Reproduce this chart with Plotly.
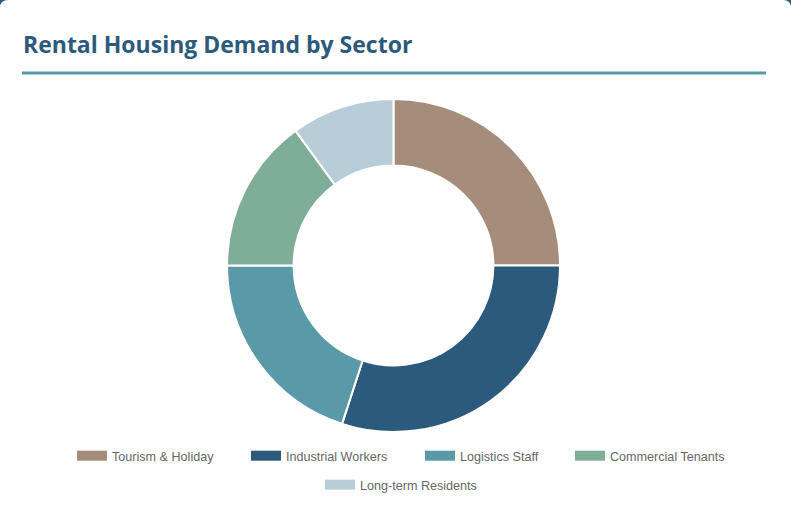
import plotly.graph_objects as go

labels = ["Tourism & Holiday", "Industrial Workers", "Logistics Staff", "Commercial Tenants", "Long-term Residents"]
values = [25, 30, 20, 15, 10]
colors = ["#A68D7B", "#2C5A7C", "#5A9AA8", "#7FAE98", "#B8CDD8"]
title_text = "Rental Housing Demand by Sector"

W, H = 791, 532
ML, MR, MT, MB = 45, 49, 99, 100
PW, PH = W - ML - MR, H - MT - MB

# legend layout (pixel positions of each entry's text start, and row tops)
legend_text_x = [114, 288, 462, 612, 362]
legend_row_top = [441, 441, 441, 441, 470]


def px_x(p):
    return (p - ML) / PW


def px_y(p):
    return 1 - (p - MT) / PH


fig = go.Figure()
fig.add_trace(go.Pie(
    labels=labels, values=values, hole=0.6, sort=False, direction="clockwise",
    rotation=0, marker=dict(colors=colors, line=dict(color="white", width=2)),
    textinfo="none", showlegend=False,
))

legend_names = ["legend"] + [f"legend{i}" for i in range(2, len(labels) + 1)]
legend_layouts = {}
for i, (lab, col) in enumerate(zip(labels, colors)):
    fig.add_trace(go.Scatter(
        x=[None], y=[None], mode="lines", name=lab,
        line=dict(color=col, width=10),
        legend=legend_names[i], hoverinfo="skip",
    ))
    legend_layouts[legend_names[i]] = dict(
        orientation="h", xanchor="left", x=px_x(legend_text_x[i] - 42),
        yanchor="top", y=px_y(legend_row_top[i]),
        font=dict(family="Liberation Sans, Arial", size=12.6, color="#666666"),
        bgcolor="rgba(0,0,0,0)", itemclick=False, itemdoubleclick=False,
    )

r = 8
card_path = (f"M {px_x(0)},{px_y(H+20)} L {px_x(0)},{px_y(r)} "
             f"Q {px_x(0)},{px_y(0)} {px_x(r)},{px_y(0)} "
             f"L {px_x(W-r)},{px_y(0)} Q {px_x(W)},{px_y(0)} {px_x(W)},{px_y(r)} "
             f"L {px_x(W)},{px_y(H+20)} Z")

fig.update_layout(
    width=W, height=H,
    margin=dict(l=ML, r=MR, t=MT, b=MB),
    paper_bgcolor="#2C5A7C", plot_bgcolor="rgba(0,0,0,0)",
    xaxis=dict(visible=False), yaxis=dict(visible=False),
    title=dict(text=title_text, xref="container", yref="container",
               x=23 / W, xanchor="left", y=1 - 45 / H, yanchor="middle",
               font=dict(family="Open Sans", size=23, color="#2C5A7C", weight="bold")),
    shapes=[
        dict(type="path", path=card_path, xref="paper", yref="paper",
             fillcolor="white", line=dict(width=0), layer="below"),
        dict(type="line", xref="paper", yref="paper",
             x0=px_x(22), x1=px_x(766), y0=px_y(73), y1=px_y(73),
             line=dict(color="#5A9AA8", width=3)),
    ],
    **legend_layouts,
)

fig.write_html("out.html", config={"displayModeBar": False},
               post_script="document.body.style.margin='0';")
